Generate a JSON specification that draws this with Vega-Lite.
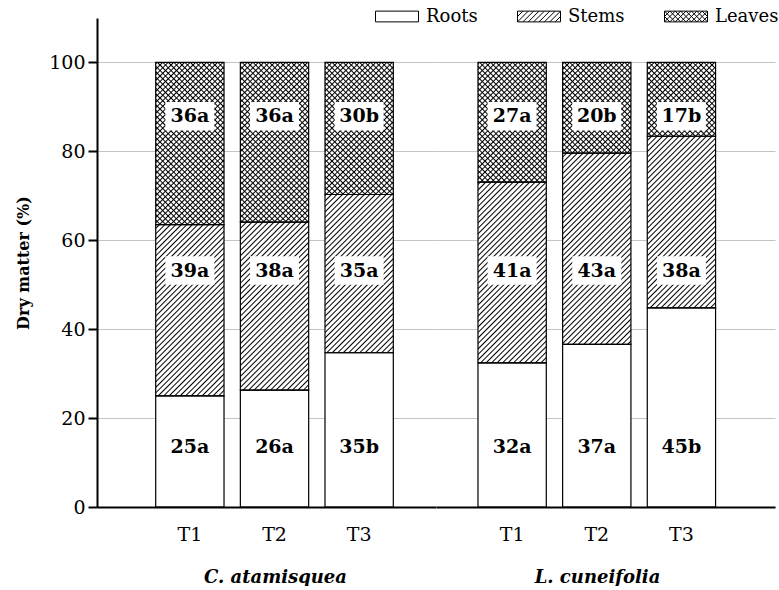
{
"$schema":"https://vega.github.io/schema/vega-lite/v6.json",
"background":"white",
"padding":{"left":15,"top":7,"right":0,"bottom":0},
"spacing":0,
"config":{
"font":"DejaVu Serif",
"view":{"stroke":null},
"axis":{"labelColor":"black","titleColor":"black"},
"style":{
"fwd":{"color":{"gradient":"linear","x1":0,"y1":0,"x2":0.2335,"y2":1.155,"stops":[
{"offset":0,"color":"#0000"},{"offset":0.0035,"color":"#000"},{"offset":0.007,"color":"#0000"},
{"offset":0.0135,"color":"#0000"},{"offset":0.017,"color":"#000"},{"offset":0.0205,"color":"#0000"},
{"offset":0.027,"color":"#0000"},{"offset":0.0305,"color":"#000"},{"offset":0.034,"color":"#0000"},
{"offset":0.0405,"color":"#0000"},{"offset":0.044,"color":"#000"},{"offset":0.0475,"color":"#0000"},
{"offset":0.054,"color":"#0000"},{"offset":0.0575,"color":"#000"},{"offset":0.061,"color":"#0000"},
{"offset":0.0675,"color":"#0000"},{"offset":0.071,"color":"#000"},{"offset":0.0745,"color":"#0000"},
{"offset":0.081,"color":"#0000"},{"offset":0.0845,"color":"#000"},{"offset":0.088,"color":"#0000"},
{"offset":0.0945,"color":"#0000"},{"offset":0.098,"color":"#000"},{"offset":0.1015,"color":"#0000"},
{"offset":0.108,"color":"#0000"},{"offset":0.1115,"color":"#000"},{"offset":0.115,"color":"#0000"},
{"offset":0.1215,"color":"#0000"},{"offset":0.125,"color":"#000"},{"offset":0.1285,"color":"#0000"},
{"offset":0.135,"color":"#0000"},{"offset":0.1385,"color":"#000"},{"offset":0.142,"color":"#0000"},
{"offset":0.1485,"color":"#0000"},{"offset":0.152,"color":"#000"},{"offset":0.1555,"color":"#0000"},
{"offset":0.162,"color":"#0000"},{"offset":0.1655,"color":"#000"},{"offset":0.169,"color":"#0000"},
{"offset":0.1755,"color":"#0000"},{"offset":0.179,"color":"#000"},{"offset":0.1825,"color":"#0000"},
{"offset":0.189,"color":"#0000"},{"offset":0.1925,"color":"#000"},{"offset":0.196,"color":"#0000"},
{"offset":0.2025,"color":"#0000"},{"offset":0.206,"color":"#000"},{"offset":0.2095,"color":"#0000"},
{"offset":0.216,"color":"#0000"},{"offset":0.2195,"color":"#000"},{"offset":0.223,"color":"#0000"},
{"offset":0.2295,"color":"#0000"},{"offset":0.233,"color":"#000"},{"offset":0.2365,"color":"#0000"},
{"offset":0.243,"color":"#0000"},{"offset":0.2465,"color":"#000"},{"offset":0.25,"color":"#0000"},
{"offset":0.2565,"color":"#0000"},{"offset":0.26,"color":"#000"},{"offset":0.2635,"color":"#0000"},
{"offset":0.27,"color":"#0000"},{"offset":0.2735,"color":"#000"},{"offset":0.277,"color":"#0000"},
{"offset":0.2835,"color":"#0000"},{"offset":0.287,"color":"#000"},{"offset":0.2905,"color":"#0000"},
{"offset":0.297,"color":"#0000"},{"offset":0.3005,"color":"#000"},{"offset":0.304,"color":"#0000"},
{"offset":0.3105,"color":"#0000"},{"offset":0.314,"color":"#000"},{"offset":0.3175,"color":"#0000"},
{"offset":0.324,"color":"#0000"},{"offset":0.3275,"color":"#000"},{"offset":0.331,"color":"#0000"},
{"offset":0.3375,"color":"#0000"},{"offset":0.341,"color":"#000"},{"offset":0.3445,"color":"#0000"},
{"offset":0.351,"color":"#0000"},{"offset":0.3545,"color":"#000"},{"offset":0.358,"color":"#0000"},
{"offset":0.3645,"color":"#0000"},{"offset":0.368,"color":"#000"},{"offset":0.3715,"color":"#0000"},
{"offset":0.378,"color":"#0000"},{"offset":0.3815,"color":"#000"},{"offset":0.385,"color":"#0000"},
{"offset":0.3915,"color":"#0000"},{"offset":0.395,"color":"#000"},{"offset":0.3985,"color":"#0000"},
{"offset":0.405,"color":"#0000"},{"offset":0.4085,"color":"#000"},{"offset":0.412,"color":"#0000"},
{"offset":0.4185,"color":"#0000"},{"offset":0.422,"color":"#000"},{"offset":0.4255,"color":"#0000"},
{"offset":0.432,"color":"#0000"},{"offset":0.4355,"color":"#000"},{"offset":0.439,"color":"#0000"},
{"offset":0.4455,"color":"#0000"},{"offset":0.449,"color":"#000"},{"offset":0.4525,"color":"#0000"},
{"offset":0.459,"color":"#0000"},{"offset":0.4625,"color":"#000"},{"offset":0.466,"color":"#0000"},
{"offset":0.4725,"color":"#0000"},{"offset":0.476,"color":"#000"},{"offset":0.4795,"color":"#0000"},
{"offset":0.486,"color":"#0000"},{"offset":0.4895,"color":"#000"},{"offset":0.493,"color":"#0000"},
{"offset":0.4995,"color":"#0000"},{"offset":0.503,"color":"#000"},{"offset":0.5065,"color":"#0000"},
{"offset":0.513,"color":"#0000"},{"offset":0.5165,"color":"#000"},{"offset":0.52,"color":"#0000"},
{"offset":0.5265,"color":"#0000"},{"offset":0.53,"color":"#000"},{"offset":0.5335,"color":"#0000"},
{"offset":0.54,"color":"#0000"},{"offset":0.5435,"color":"#000"},{"offset":0.547,"color":"#0000"},
{"offset":0.5535,"color":"#0000"},{"offset":0.557,"color":"#000"},{"offset":0.5605,"color":"#0000"},
{"offset":0.567,"color":"#0000"},{"offset":0.5705,"color":"#000"},{"offset":0.574,"color":"#0000"},
{"offset":0.5805,"color":"#0000"},{"offset":0.584,"color":"#000"},{"offset":0.5875,"color":"#0000"},
{"offset":0.594,"color":"#0000"},{"offset":0.5975,"color":"#000"},{"offset":0.601,"color":"#0000"},
{"offset":0.6075,"color":"#0000"},{"offset":0.611,"color":"#000"},{"offset":0.6145,"color":"#0000"},
{"offset":0.621,"color":"#0000"},{"offset":0.6245,"color":"#000"},{"offset":0.628,"color":"#0000"},
{"offset":0.6345,"color":"#0000"},{"offset":0.638,"color":"#000"},{"offset":0.6415,"color":"#0000"},
{"offset":0.648,"color":"#0000"},{"offset":0.6515,"color":"#000"},{"offset":0.655,"color":"#0000"},
{"offset":0.6615,"color":"#0000"},{"offset":0.665,"color":"#000"},{"offset":0.6685,"color":"#0000"},
{"offset":0.675,"color":"#0000"},{"offset":0.6785,"color":"#000"},{"offset":0.682,"color":"#0000"},
{"offset":0.6885,"color":"#0000"},{"offset":0.692,"color":"#000"},{"offset":0.6955,"color":"#0000"},
{"offset":0.702,"color":"#0000"},{"offset":0.7055,"color":"#000"},{"offset":0.709,"color":"#0000"},
{"offset":0.7155,"color":"#0000"},{"offset":0.719,"color":"#000"},{"offset":0.7225,"color":"#0000"},
{"offset":0.729,"color":"#0000"},{"offset":0.7325,"color":"#000"},{"offset":0.736,"color":"#0000"},
{"offset":0.7425,"color":"#0000"},{"offset":0.746,"color":"#000"},{"offset":0.7495,"color":"#0000"},
{"offset":0.756,"color":"#0000"},{"offset":0.7595,"color":"#000"},{"offset":0.763,"color":"#0000"},
{"offset":0.7695,"color":"#0000"},{"offset":0.773,"color":"#000"},{"offset":0.7765,"color":"#0000"},
{"offset":0.783,"color":"#0000"},{"offset":0.7865,"color":"#000"},{"offset":0.79,"color":"#0000"},
{"offset":0.7965,"color":"#0000"},{"offset":0.8,"color":"#000"},{"offset":0.8035,"color":"#0000"},
{"offset":0.81,"color":"#0000"},{"offset":0.8135,"color":"#000"},{"offset":0.817,"color":"#0000"},
{"offset":0.8235,"color":"#0000"},{"offset":0.827,"color":"#000"},{"offset":0.8305,"color":"#0000"},
{"offset":0.837,"color":"#0000"},{"offset":0.8405,"color":"#000"},{"offset":0.844,"color":"#0000"},
{"offset":0.8505,"color":"#0000"},{"offset":0.854,"color":"#000"},{"offset":0.8575,"color":"#0000"},
{"offset":0.864,"color":"#0000"},{"offset":0.8675,"color":"#000"},{"offset":0.871,"color":"#0000"},
{"offset":0.8775,"color":"#0000"},{"offset":0.881,"color":"#000"},{"offset":0.8845,"color":"#0000"},
{"offset":0.891,"color":"#0000"},{"offset":0.8945,"color":"#000"},{"offset":0.898,"color":"#0000"},
{"offset":0.9045,"color":"#0000"},{"offset":0.908,"color":"#000"},{"offset":0.9115,"color":"#0000"},
{"offset":0.918,"color":"#0000"},{"offset":0.9215,"color":"#000"},{"offset":0.925,"color":"#0000"},
{"offset":0.9315,"color":"#0000"},{"offset":0.935,"color":"#000"},{"offset":0.9385,"color":"#0000"},
{"offset":0.945,"color":"#0000"},{"offset":0.9485,"color":"#000"},{"offset":0.952,"color":"#0000"},
{"offset":0.9585,"color":"#0000"},{"offset":0.962,"color":"#000"},{"offset":0.9655,"color":"#0000"},
{"offset":0.972,"color":"#0000"},{"offset":0.9755,"color":"#000"},{"offset":0.979,"color":"#0000"},
{"offset":0.9855,"color":"#0000"},{"offset":0.989,"color":"#000"},{"offset":0.9925,"color":"#0000"},
{"offset":1,"color":"#0000"}]}},
"back":{"color":{"gradient":"linear","x1":0,"y1":1,"x2":0.5013,"y2":-0.2071,"stops":[
{"offset":0,"color":"#0000"},{"offset":0.0061,"color":"#000"},{"offset":0.0122,"color":"#0000"},
{"offset":0.0236,"color":"#0000"},{"offset":0.0297,"color":"#000"},{"offset":0.0358,"color":"#0000"},
{"offset":0.0472,"color":"#0000"},{"offset":0.0533,"color":"#000"},{"offset":0.0594,"color":"#0000"},
{"offset":0.0708,"color":"#0000"},{"offset":0.0769,"color":"#000"},{"offset":0.083,"color":"#0000"},
{"offset":0.0944,"color":"#0000"},{"offset":0.1005,"color":"#000"},{"offset":0.1066,"color":"#0000"},
{"offset":0.118,"color":"#0000"},{"offset":0.1241,"color":"#000"},{"offset":0.1302,"color":"#0000"},
{"offset":0.1416,"color":"#0000"},{"offset":0.1477,"color":"#000"},{"offset":0.1538,"color":"#0000"},
{"offset":0.1652,"color":"#0000"},{"offset":0.1713,"color":"#000"},{"offset":0.1774,"color":"#0000"},
{"offset":0.1888,"color":"#0000"},{"offset":0.1949,"color":"#000"},{"offset":0.201,"color":"#0000"},
{"offset":0.2124,"color":"#0000"},{"offset":0.2185,"color":"#000"},{"offset":0.2246,"color":"#0000"},
{"offset":0.236,"color":"#0000"},{"offset":0.2421,"color":"#000"},{"offset":0.2482,"color":"#0000"},
{"offset":0.2596,"color":"#0000"},{"offset":0.2657,"color":"#000"},{"offset":0.2718,"color":"#0000"},
{"offset":0.2832,"color":"#0000"},{"offset":0.2893,"color":"#000"},{"offset":0.2954,"color":"#0000"},
{"offset":0.3068,"color":"#0000"},{"offset":0.3129,"color":"#000"},{"offset":0.319,"color":"#0000"},
{"offset":0.3304,"color":"#0000"},{"offset":0.3365,"color":"#000"},{"offset":0.3426,"color":"#0000"},
{"offset":0.354,"color":"#0000"},{"offset":0.3601,"color":"#000"},{"offset":0.3662,"color":"#0000"},
{"offset":0.3776,"color":"#0000"},{"offset":0.3837,"color":"#000"},{"offset":0.3898,"color":"#0000"},
{"offset":0.4012,"color":"#0000"},{"offset":0.4073,"color":"#000"},{"offset":0.4134,"color":"#0000"},
{"offset":0.4248,"color":"#0000"},{"offset":0.4309,"color":"#000"},{"offset":0.437,"color":"#0000"},
{"offset":0.4484,"color":"#0000"},{"offset":0.4545,"color":"#000"},{"offset":0.4606,"color":"#0000"},
{"offset":0.472,"color":"#0000"},{"offset":0.4781,"color":"#000"},{"offset":0.4842,"color":"#0000"},
{"offset":0.4956,"color":"#0000"},{"offset":0.5017,"color":"#000"},{"offset":0.5078,"color":"#0000"},
{"offset":0.5192,"color":"#0000"},{"offset":0.5253,"color":"#000"},{"offset":0.5314,"color":"#0000"},
{"offset":0.5428,"color":"#0000"},{"offset":0.5489,"color":"#000"},{"offset":0.555,"color":"#0000"},
{"offset":0.5664,"color":"#0000"},{"offset":0.5725,"color":"#000"},{"offset":0.5786,"color":"#0000"},
{"offset":0.59,"color":"#0000"},{"offset":0.5961,"color":"#000"},{"offset":0.6022,"color":"#0000"},
{"offset":0.6136,"color":"#0000"},{"offset":0.6197,"color":"#000"},{"offset":0.6258,"color":"#0000"},
{"offset":0.6372,"color":"#0000"},{"offset":0.6433,"color":"#000"},{"offset":0.6494,"color":"#0000"},
{"offset":0.6608,"color":"#0000"},{"offset":0.6669,"color":"#000"},{"offset":0.673,"color":"#0000"},
{"offset":0.6844,"color":"#0000"},{"offset":0.6905,"color":"#000"},{"offset":0.6966,"color":"#0000"},
{"offset":0.708,"color":"#0000"},{"offset":0.7141,"color":"#000"},{"offset":0.7202,"color":"#0000"},
{"offset":0.7316,"color":"#0000"},{"offset":0.7377,"color":"#000"},{"offset":0.7438,"color":"#0000"},
{"offset":0.7552,"color":"#0000"},{"offset":0.7613,"color":"#000"},{"offset":0.7674,"color":"#0000"},
{"offset":0.7788,"color":"#0000"},{"offset":0.7849,"color":"#000"},{"offset":0.791,"color":"#0000"},
{"offset":0.8024,"color":"#0000"},{"offset":0.8085,"color":"#000"},{"offset":0.8146,"color":"#0000"},
{"offset":0.826,"color":"#0000"},{"offset":0.8321,"color":"#000"},{"offset":0.8382,"color":"#0000"},
{"offset":0.8496,"color":"#0000"},{"offset":0.8557,"color":"#000"},{"offset":0.8618,"color":"#0000"},
{"offset":0.8732,"color":"#0000"},{"offset":0.8793,"color":"#000"},{"offset":0.8854,"color":"#0000"},
{"offset":0.8968,"color":"#0000"},{"offset":0.9029,"color":"#000"},{"offset":0.909,"color":"#0000"},
{"offset":0.9204,"color":"#0000"},{"offset":0.9265,"color":"#000"},{"offset":0.9326,"color":"#0000"},
{"offset":0.944,"color":"#0000"},{"offset":0.9501,"color":"#000"},{"offset":0.9562,"color":"#0000"},
{"offset":0.9676,"color":"#0000"},{"offset":0.9737,"color":"#000"},{"offset":0.9798,"color":"#0000"},
{"offset":0.9912,"color":"#0000"},{"offset":0.9973,"color":"#000"},{"offset":1,"color":"#0000"}]}}
}
},
"datasets":{"d":[
{"species":"C. atamisquea","treatment":"T1","part":"Roots","order":1,"value":25.0,"label":"25a"},
{"species":"C. atamisquea","treatment":"T1","part":"Stems","order":2,"value":38.5,"label":"39a"},
{"species":"C. atamisquea","treatment":"T1","part":"Leaves","order":3,"value":36.5,"label":"36a"},
{"species":"C. atamisquea","treatment":"T2","part":"Roots","order":1,"value":26.3,"label":"26a"},
{"species":"C. atamisquea","treatment":"T2","part":"Stems","order":2,"value":37.8,"label":"38a"},
{"species":"C. atamisquea","treatment":"T2","part":"Leaves","order":3,"value":35.9,"label":"36a"},
{"species":"C. atamisquea","treatment":"T3","part":"Roots","order":1,"value":34.7,"label":"35b"},
{"species":"C. atamisquea","treatment":"T3","part":"Stems","order":2,"value":35.6,"label":"35a"},
{"species":"C. atamisquea","treatment":"T3","part":"Leaves","order":3,"value":29.7,"label":"30b"},
{"species":"L. cuneifolia","treatment":"T1","part":"Roots","order":1,"value":32.4,"label":"32a"},
{"species":"L. cuneifolia","treatment":"T1","part":"Stems","order":2,"value":40.7,"label":"41a"},
{"species":"L. cuneifolia","treatment":"T1","part":"Leaves","order":3,"value":26.9,"label":"27a"},
{"species":"L. cuneifolia","treatment":"T2","part":"Roots","order":1,"value":36.6,"label":"37a"},
{"species":"L. cuneifolia","treatment":"T2","part":"Stems","order":2,"value":43.0,"label":"43a"},
{"species":"L. cuneifolia","treatment":"T2","part":"Leaves","order":3,"value":20.4,"label":"20b"},
{"species":"L. cuneifolia","treatment":"T3","part":"Roots","order":1,"value":44.8,"label":"45b"},
{"species":"L. cuneifolia","treatment":"T3","part":"Stems","order":2,"value":38.6,"label":"38a"},
{"species":"L. cuneifolia","treatment":"T3","part":"Leaves","order":3,"value":16.6,"label":"17b"}
]},
"hconcat":[
{
"width":339,"height":489,
"data":{"name":"d"},
"transform":[
{"filter":"datum.species === 'C. atamisquea'"},
{"stack":"value","groupby":["treatment"],"sort":[{"field":"order","order":"ascending"}],"as":["v0","v1"]}
],
"encoding":{"x":{"field":"treatment","type":"nominal",
"scale":{"paddingInner":0.193,"paddingOuter":0.599,"align":0.579},
"axis":{"title":"C. atamisquea","titleX":178,"titleFontSize":18,"titleFontStyle":"italic","titleFontWeight":"bold","titlePadding":24,"labelAngle":0,"labelFontSize":19,"labelPadding":18,"ticks":false,"tickSize":0,"domainColor":"black","domainWidth":2,"grid":false,"zindex":1}}},
"layer":[
{"mark":{"type":"bar","fill":"white","strokeWidth":0},
"encoding":{"y":{"field":"v0","type":"quantitative","scale":{"domain":[0,110],"nice":false},
"axis":{"values":[0,20,40,60,80,100],"title":"Dry matter (%)","titleFontSize":16,"titleFontWeight":"bold","titlePadding":19,"labelFontSize":19,"labelPadding":3,"tickSize":9,"tickWidth":2,"tickColor":"black","domainColor":"black","domainWidth":2,"grid":true,"gridColor":"#c4c4c4","gridWidth":1,"minExtent":47,"maxExtent":47,"zindex":0}},
"y2":{"field":"v1"}}},
{"transform":[{"filter":"datum.part === 'Leaves'"}],"mark":{"type":"bar","style":"back","strokeWidth":0},"encoding":{"y":{"datum":63,"type":"quantitative"},"y2":{"datum":100}}},
{"transform":[{"filter":"datum.part !== 'Leaves'"}],"mark":{"type":"bar","fill":"white","strokeWidth":0},"encoding":{"y":{"field":"v0","type":"quantitative"},"y2":{"field":"v1"}}},
{"transform":[{"filter":"datum.part === 'Leaves'"}],"mark":{"type":"bar","style":"fwd","strokeWidth":0},"encoding":{"y":{"datum":24,"type":"quantitative"},"y2":{"datum":100}}},
{"transform":[{"filter":"datum.part === 'Roots'"}],"mark":{"type":"bar","fill":"white","strokeWidth":0},"encoding":{"y":{"field":"v0","type":"quantitative"},"y2":{"field":"v1"}}},
{"mark":{"type":"bar","stroke":"black","strokeWidth":1.2},
"encoding":{"y":{"field":"v0","type":"quantitative"},"y2":{"field":"v1"},
"fill":{"field":"part","type":"nominal","scale":{"domain":["Roots","Stems","Leaves"],"range":["#fff0","#fff0","#fff0"]},
"legend":{"orient":"none","legendX":278,"legendY":-10.5,"direction":"horizontal","title":null,"symbolSize":1849,"clipHeight":18,"symbolStrokeWidth":1,"symbolStrokeColor":"black","symbolFillColor":"white","labelFontSize":18,"labelColor":"black","labelOffset":7,"columnPadding":39,"padding":0,"symbolType":"M-1,-0.25H1V0.25H-1Z",
"encode":{"symbols":{"update":{"shape":[
{"test":"datum.value === 'Stems'","value":"M-1,-0.25H1V0.25H-1ZM-1,0L-0.75,-0.25M-1,0.25L-0.5,-0.25M-0.75,0.25L-0.25,-0.25M-0.5,0.25L0,-0.25M-0.25,0.25L0.25,-0.25M0,0.25L0.5,-0.25M0.25,0.25L0.75,-0.25M0.5,0.25L1,-0.25M0.75,0.25L1,0"},
{"test":"datum.value === 'Leaves'","value":"M-1,-0.25H1V0.25H-1ZM-1,0L-0.75,-0.25M-1,0.25L-0.5,-0.25M-0.75,0.25L-0.25,-0.25M-0.5,0.25L0,-0.25M-0.25,0.25L0.25,-0.25M0,0.25L0.5,-0.25M0.25,0.25L0.75,-0.25M0.5,0.25L1,-0.25M0.75,0.25L1,0M-1,0L-0.75,0.25M-1,-0.25L-0.5,0.25M-0.75,-0.25L-0.25,0.25M-0.5,-0.25L0,0.25M-0.25,-0.25L0.25,0.25M0,-0.25L0.5,0.25M0.25,-0.25L0.75,0.25M0.5,-0.25L1,0.25M0.75,-0.25L1,0"},
{"value":"M-1,-0.25H1V0.25H-1Z"}],
"fill":{"value":"white"},"stroke":{"value":"black"},"strokeWidth":{"value":1}}}}}}}},
{"transform":[{"filter":"datum.part === 'Stems'"}],"mark":{"type":"point","shape":"M-1,-0.58H1V0.58H-1Z","filled":true,"fill":"white","opacity":1,"size":2401,"strokeWidth":0},"encoding":{"y":{"datum":53.2,"type":"quantitative"}}},
{"transform":[{"filter":"datum.part === 'Leaves'"}],"mark":{"type":"point","shape":"M-1,-0.58H1V0.58H-1Z","filled":true,"fill":"white","opacity":1,"size":2401,"strokeWidth":0},"encoding":{"y":{"datum":87.9,"type":"quantitative"}}},
{"transform":[{"filter":"datum.part === 'Roots'"}],"mark":{"type":"text","fontWeight":"bold","fontSize":19,"baseline":"middle","color":"black"},"encoding":{"y":{"datum":13.4,"type":"quantitative"},"text":{"field":"label"}}},
{"transform":[{"filter":"datum.part === 'Stems'"}],"mark":{"type":"text","fontWeight":"bold","fontSize":19,"baseline":"middle","color":"black"},"encoding":{"y":{"datum":53.2,"type":"quantitative"},"text":{"field":"label"}}},
{"transform":[{"filter":"datum.part === 'Leaves'"}],"mark":{"type":"text","fontWeight":"bold","fontSize":19,"baseline":"middle","color":"black"},"encoding":{"y":{"datum":87.9,"type":"quantitative"},"text":{"field":"label"}}}
]
},
{
"width":339,"height":489,
"data":{"name":"d"},
"transform":[
{"filter":"datum.species === 'L. cuneifolia'"},
{"stack":"value","groupby":["treatment"],"sort":[{"field":"order","order":"ascending"}],"as":["v0","v1"]}
],
"encoding":{"x":{"field":"treatment","type":"nominal",
"scale":{"paddingInner":0.193,"paddingOuter":0.599,"align":0.414},
"axis":{"title":"L. cuneifolia","titleX":161,"titleFontSize":18,"titleFontStyle":"italic","titleFontWeight":"bold","titlePadding":24,"labelAngle":0,"labelFontSize":19,"labelPadding":18,"ticks":false,"tickSize":0,"domainColor":"black","domainWidth":2,"grid":false,"zindex":1}}},
"layer":[
{"mark":{"type":"bar","fill":"white","strokeWidth":0},
"encoding":{"y":{"field":"v0","type":"quantitative","scale":{"domain":[0,110],"nice":false},
"axis":{"values":[0,20,40,60,80,100],"title":null,"labels":false,"ticks":false,"domain":false,"grid":true,"gridColor":"#c4c4c4","gridWidth":1,"minExtent":0,"maxExtent":0,"zindex":0}},
"y2":{"field":"v1"}}},
{"transform":[{"filter":"datum.part === 'Leaves'"}],"mark":{"type":"bar","style":"back","strokeWidth":0},"encoding":{"y":{"datum":63,"type":"quantitative"},"y2":{"datum":100}}},
{"transform":[{"filter":"datum.part !== 'Leaves'"}],"mark":{"type":"bar","fill":"white","strokeWidth":0},"encoding":{"y":{"field":"v0","type":"quantitative"},"y2":{"field":"v1"}}},
{"transform":[{"filter":"datum.part === 'Leaves'"}],"mark":{"type":"bar","style":"fwd","strokeWidth":0},"encoding":{"y":{"datum":24,"type":"quantitative"},"y2":{"datum":100}}},
{"transform":[{"filter":"datum.part === 'Roots'"}],"mark":{"type":"bar","fill":"white","strokeWidth":0},"encoding":{"y":{"field":"v0","type":"quantitative"},"y2":{"field":"v1"}}},
{"mark":{"type":"bar","stroke":"black","strokeWidth":1.2},
"encoding":{"y":{"field":"v0","type":"quantitative"},"y2":{"field":"v1"},
"fill":{"field":"part","type":"nominal","scale":{"domain":["Roots","Stems","Leaves"],"range":["#fff0","#fff0","#fff0"]}}}},
{"transform":[{"filter":"datum.part === 'Stems'"}],"mark":{"type":"point","shape":"M-1,-0.58H1V0.58H-1Z","filled":true,"fill":"white","opacity":1,"size":2401,"strokeWidth":0},"encoding":{"y":{"datum":53.2,"type":"quantitative"}}},
{"transform":[{"filter":"datum.part === 'Leaves'"}],"mark":{"type":"point","shape":"M-1,-0.58H1V0.58H-1Z","filled":true,"fill":"white","opacity":1,"size":2401,"strokeWidth":0},"encoding":{"y":{"datum":87.9,"type":"quantitative"}}},
{"transform":[{"filter":"datum.part === 'Roots'"}],"mark":{"type":"text","fontWeight":"bold","fontSize":19,"baseline":"middle","color":"black"},"encoding":{"y":{"datum":13.4,"type":"quantitative"},"text":{"field":"label"}}},
{"transform":[{"filter":"datum.part === 'Stems'"}],"mark":{"type":"text","fontWeight":"bold","fontSize":19,"baseline":"middle","color":"black"},"encoding":{"y":{"datum":53.2,"type":"quantitative"},"text":{"field":"label"}}},
{"transform":[{"filter":"datum.part === 'Leaves'"}],"mark":{"type":"text","fontWeight":"bold","fontSize":19,"baseline":"middle","color":"black"},"encoding":{"y":{"datum":87.9,"type":"quantitative"},"text":{"field":"label"}}}
]
}
]
}
